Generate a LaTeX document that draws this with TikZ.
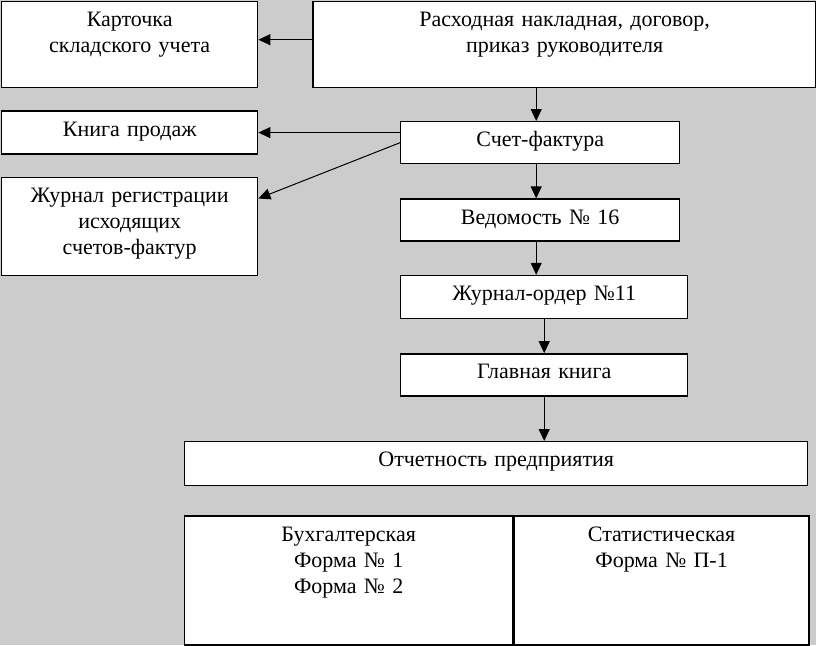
\documentclass[tikz,border=0pt]{standalone}
\usepackage{fontspec}
\setmainfont{Liberation Serif}
\usetikzlibrary{positioning,calc,arrows.meta}
\definecolor{bg}{RGB}{204,204,204}

\begin{document}
\begin{tikzpicture}[x=1pt, y=-1pt,
    blk/.style 2 args={draw, fill=white, rectangle, line width=1.4pt, inner sep=0pt, align=center,
        font=\fontsize{22}{26}\selectfont, text width=#1, text height=25pt, text depth=#2},
    arr/.style={-{Triangle[length=12pt,width=11pt]}, line width=1pt}]
    \fill [bg] (0,0) rectangle (816,645);
    \useasboundingbox (0,0) rectangle (816,645);

    \node [blk={256pt}{61pt}, anchor=north west] (kart) at (1,1) {Карточка\\складского учета};
    \node [blk={503pt}{61pt}, right=54pt of kart] (rash) {Расходная накладная, договор,\\приказ руководителя};
    \node [blk={256pt}{18pt}, below=22pt of kart] (kniga) {Книга продаж};
    \node [blk={256pt}{73pt}, below=22pt of kniga] (zhreg) {Журнал регистрации\\исходящих\\счетов-фактур};
    \node [blk={279pt}{17pt}, anchor=north west] (sf) at (400,121) {Счет-фактура};
    \node [blk={279pt}{17pt}, below=34pt of sf] (ved) {Ведомость № 16};
    \node [blk={287pt}{18pt}, below=33pt of ved.south west, anchor=north west] (zho) {Журнал-ордер №11};
    \node [blk={287pt}{17pt}, below=34pt of zho] (gk) {Главная книга};
    \node [blk={623pt}{19pt}, anchor=north west] (otch) at (184,441) {Отчетность предприятия};
    \node [blk={328pt}{104pt}, below=29pt of otch.south west, anchor=north west] (buh) {Бухгалтерская\\Форма № 1\\Форма № 2};
    \node [blk={295pt}{104pt}, right=0pt of buh] (stat) {Статистическая\\Форма № П-1};

    \draw [arr] ([yshift=5pt]rash.west) -- ([yshift=5pt]kart.east);
    \draw [arr] ([xshift=-4pt]sf.north |- rash.south) -- ([xshift=-4pt]sf.north);
    \draw [arr] (sf.west |- kniga.east) -- (kniga.east);
    \draw [arr] (sf.west) -- ([yshift=28pt]zhreg.east); % to the journal, slanted
    \draw [arr] ([xshift=-4pt]sf.south) -- ([xshift=-4pt]ved.north);
    \draw [arr] ([xshift=-4pt]ved.south) -- ([xshift=-4pt]ved.south |- zho.north);
    \draw [arr] (zho) -- (gk);
    \draw [arr] (gk) -- (gk |- otch.north);

\end{tikzpicture}
\end{document}
